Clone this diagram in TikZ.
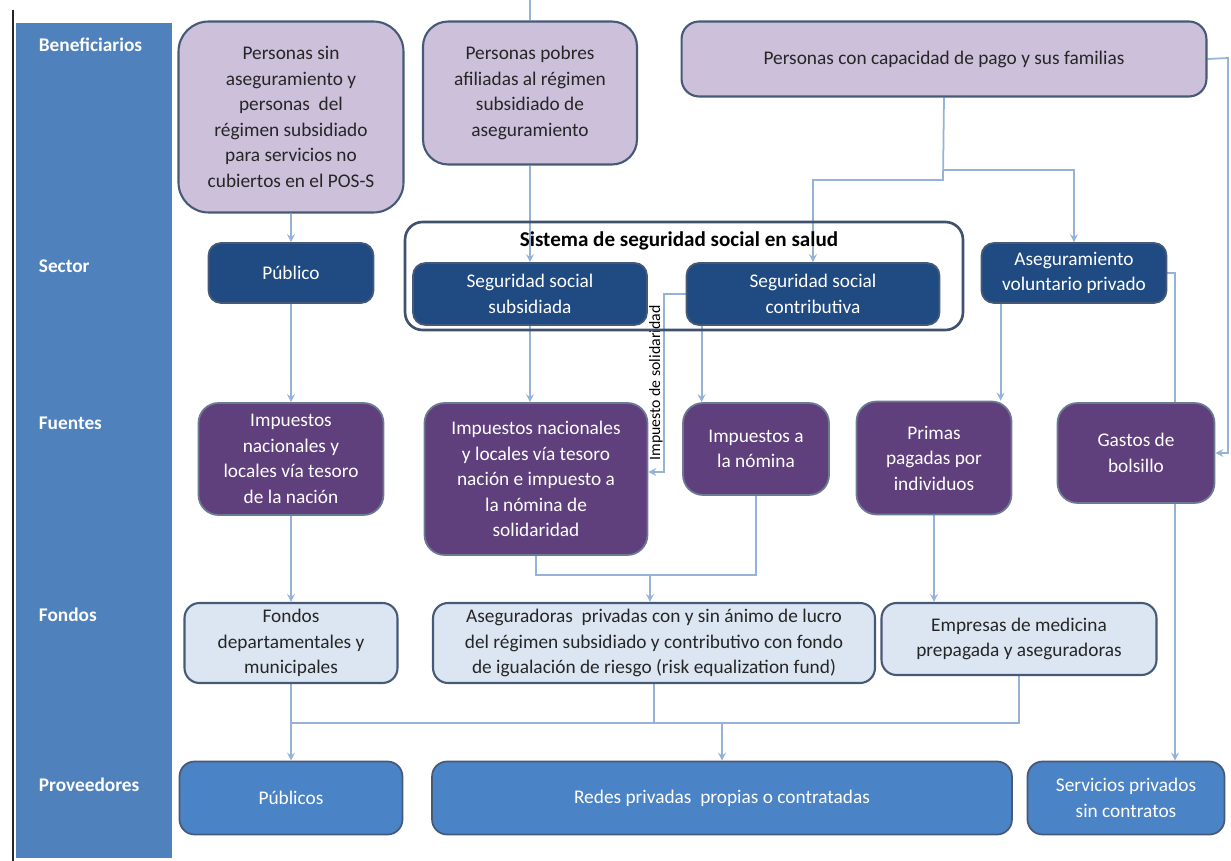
\documentclass[tikz,border=0pt]{standalone}
\usepackage{fontspec}
\setmainfont{Carlito}
\usetikzlibrary{arrows,backgrounds}
\definecolor{colblue}{RGB}{79,129,189}
\definecolor{lavfill}{RGB}{204,192,218}
\definecolor{secblue}{RGB}{31,75,130}
\definecolor{srcpurple}{RGB}{96,64,124}
\definecolor{fundfill}{RGB}{220,230,242}
\definecolor{provblue}{RGB}{75,132,198}
\definecolor{edgegray}{RGB}{70,90,120}
\definecolor{linkblue}{RGB}{149,179,215}

\begin{document}
\begin{tikzpicture}[x=0.02cm,y=-0.02cm,>=stealth,
  every node/.style={font=\fontsize{11}{14.5}\selectfont,align=center,inner sep=2pt},
  benbox/.style={draw=edgegray,line width=1.2pt,fill=lavfill,text=black!85},
  secbox/.style={draw=edgegray,line width=1pt,fill=secblue,text=white,rounded corners=0.25cm},
  srcbox/.style={draw=edgegray!80,line width=1pt,fill=srcpurple,text=white,rounded corners=0.4cm},
  fundbox/.style={draw=edgegray,line width=1.2pt,fill=fundfill,text=black!85,rounded corners=0.3cm},
  provbox/.style={draw=edgegray,line width=1pt,fill=provblue,text=white,rounded corners=0.3cm},
  rowlabel/.style={anchor=west,text=white,font=\fontsize{11}{13}\selectfont\bfseries},
  link/.style={draw=linkblue,line width=1pt}]
  \useasboundingbox (0,0) rectangle (1231,861);

  % row labels:
  \node[rowlabel] (lben) at (35,45) {Beneficiarios};
  \node[rowlabel] (lsec) at (35,266) {Sector};
  \node[rowlabel] (lfue) at (35,423) {Fuentes};
  \node[rowlabel] (lfon) at (35,615) {Fondos};
  \node[rowlabel] (lpro) at (35,785) {Proveedores};

  % beneficiarios:
  \node[benbox,rounded corners=0.6cm,minimum width=4.5cm,minimum height=3.82cm] (ben1) at (291,117)
    {Personas sin\\aseguramiento y\\personas\ \ del\\régimen subsidiado\\para servicios no\\cubiertos en el POS-S};
  \node[benbox,rounded corners=0.5cm,minimum width=4.28cm,minimum height=2.86cm] (ben2) at (530,93)
    {Personas pobres\\afiliadas al régimen\\subsidiado de\\aseguramiento};
  \node[benbox,rounded corners=0.35cm,minimum width=10.5cm,minimum height=1.5cm] (ben3) at (944,59)
    {Personas con capacidad de pago y sus familias};

  % sector:
  \node[draw=edgegray!90!black,line width=1.5pt,rounded corners=0.35cm,minimum width=11.16cm,minimum height=2.16cm] (sis) at (684,276) {};
  \node[font=\fontsize{12}{14}\selectfont\bfseries] (tsis) at (679,241) {Sistema de seguridad social en salud};
  \node[secbox,minimum width=3.3cm,minimum height=1.2cm] (pub) at (291,273) {Público};
  \node[secbox,minimum width=4.68cm,minimum height=1.24cm] (ssub) at (530,294) {Seguridad social\\subsidiada};
  \node[secbox,minimum width=5.06cm,minimum height=1.24cm] (scon) at (813,294) {Seguridad social\\contributiva};
  \node[secbox,minimum width=3.7cm,minimum height=1.2cm] (aseg) at (1074,273) {Aseguramiento\\voluntario privado};

  % fuentes:
  \node[srcbox,minimum width=3.7cm,minimum height=2.24cm] (f1) at (291,459)
    {Impuestos\\nacionales y\\locales vía tesoro\\de la nación};
  \node[srcbox,minimum width=4.46cm,minimum height=3.04cm] (f2) at (536,479)
    {Impuestos nacionales\\y locales vía tesoro\\nación e impuesto a\\la nómina de\\solidaridad};
  \node[srcbox,minimum width=2.92cm,minimum height=1.84cm] (f3) at (756,449) {Impuestos a\\la nómina};
  \node[srcbox,minimum width=3.1cm,minimum height=2.26cm] (f4) at (934,458) {Primas\\pagadas por\\individuos};
  \node[srcbox,minimum width=3.14cm,minimum height=2cm] (f5) at (1136,453) {Gastos de\\bolsillo};

  % fondos:
  \node[fundbox,minimum width=4.26cm,minimum height=1.6cm] (d1) at (291,643)
    {Fondos\\departamentales y\\municipales};
  \node[fundbox,minimum width=8.84cm,minimum height=1.6cm] (d2) at (654,643)
    {Aseguradoras\ \ privadas con y sin ánimo de lucro\\del régimen subsidiado y contributivo con fondo\\de igualación de riesgo (risk equalization fund)};
  \node[fundbox,minimum width=5.5cm,minimum height=1.44cm] (d3) at (1019,639)
    {Empresas de medicina\\prepagada y aseguradoras};

  % proveedores:
  \node[provbox,minimum width=4.46cm,minimum height=1.46cm] (p1) at (291,798) {Públicos};
  \node[provbox,minimum width=11.6cm,minimum height=1.46cm] (p2) at (722,798) {Redes privadas\ \ propias o contratadas};
  \node[provbox,minimum width=3.94cm,minimum height=1.46cm] (p3) at (1126,798) {Servicios privados\\sin contratos};

  \coordinate (top) at (530,0);
  \coordinate (j1) at (943,180);
  \coordinate (j2) at (943,170);
  \coordinate (sol) at (664,294);
  \coordinate (f2sol) at ([yshift=0.14cm]f2.east);
  \coordinate (ae) at (1175,273);
  \coordinate (re) at (1228,58);
  \coordinate (jf) at (650,575);
  \coordinate (jp) at (722,723);

  \begin{scope}[on background layer]
    \fill[colblue] (16,23) rectangle (172,858);
    \draw[line width=1.2pt,black!85] (13,10) -- (13,861);

    \draw[link] (top) -- (ben2.north);
    \draw[link,->] (ben1.south) -- (pub.north);
    \draw[link,->] (ben2.south) -- (ssub.north);
    \draw[link,->] (ben3.south) -- (j1) -| (scon.north);
    \draw[link,->] (j2) -| (aseg.north);
    \draw[link,->] (ben3.east) -- (re) |- (f5.east);

    \draw[link,->] (pub.south) -- (f1.north);
    \draw[link,->] (ssub.south) -- (ssub.south |- f2.north);
    \draw[link,->] ([xshift=0.32cm]scon.south west) -- ([xshift=0.32cm]scon.south west |- f3.north);
    \draw[link,->] (scon.west) -- (sol)
      -- node[rotate=90,anchor=south,inner sep=0.3pt,font=\fontsize{9}{10}\selectfont] {Impuesto de solidaridad}
      (sol |- f2sol) -- (f2sol);
    \draw[link,->] ([xshift=0.4cm]aseg.south west) -- ([xshift=0.4cm]aseg.south west |- f4.north);
    \draw[link,->] (aseg.east) -- (ae) -- (ae |- p3.north);

    \draw[link,->] (f1.south) -- (d1.north);
    \draw[link] (f2.south) |- (f3.south |- jf) -- (f3.south);
    \draw[link,->] (jf) -- (jf |- d2.north);
    \draw[link,->] (f4.south) -- (f4.south |- d3.north);

    \draw[link,->] (d1.south) -- (p1.north);
    \draw[link] (d1.south |- jp) -- (d3.south |- jp) -- (d3.south);
    \draw[link] (d2.south) -- (d2.south |- jp);
    \draw[link,->] (jp) -- (p2.north);
  \end{scope}
\end{tikzpicture}
\end{document}
